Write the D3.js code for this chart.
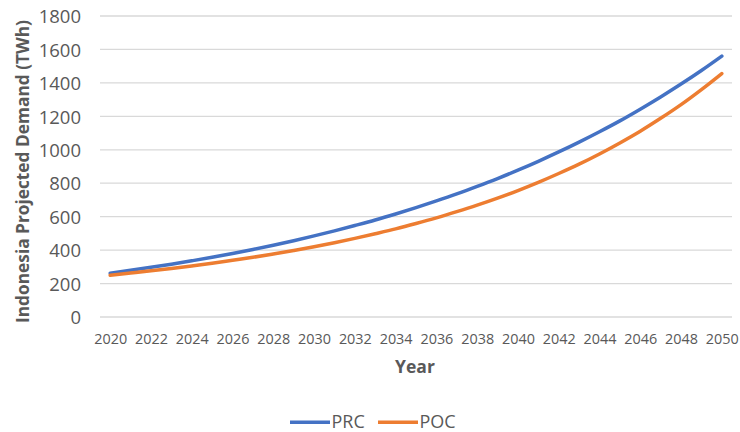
<!DOCTYPE html>
<html>
<head>
<meta charset="utf-8">
<script src="https://cdn.jsdelivr.net/npm/d3@7"></script>
<style>
  html, body { margin: 0; padding: 0; background: #fff; }
  svg { display: block; font-family: "Open Sans", "Noto Sans", sans-serif; }
</style>
</head>
<body>
<svg id="chart" width="740" height="432"></svg>
<script>
// Projected electricity demand for Indonesia, TWh per year
const years = d3.range(2020, 2051);
const prc = [262, 279, 297, 316, 336, 357, 380, 404, 429, 456,
             485, 515, 547, 580, 616, 654, 694, 736, 781, 828,
             878, 931, 987, 1046, 1108, 1173, 1243, 1316, 1393, 1474, 1560];
const poc = [250, 263, 276, 290, 305, 321, 339, 357, 377, 398,
             420, 444, 470, 498, 527, 559, 593, 630, 669, 711,
             756, 805, 858, 914, 975, 1041, 1111, 1188, 1270, 1360, 1456];
const yTicks = [0, 200, 400, 600, 800, 1000, 1200, 1400, 1600, 1800];
const xTickYears = years.filter(y => y % 2 === 0);
const seriesNames = ["PRC", "POC"];
const seriesColors = ["#4472C4", "#ED7D31"];

const svg = d3.select("#chart");
const plot = { left: 100, right: 732, top: 16, bottom: 317 };
const textColor = "#595959";

const x = d3.scalePoint().domain(years).range([plot.left, plot.right]).padding(0.5);
const y = d3.scaleLinear().domain([0, 1800]).range([plot.bottom, plot.top]);

// Horizontal gridlines
svg.append("g")
  .selectAll("line")
  .data(yTicks)
  .join("line")
  .attr("x1", plot.left).attr("x2", plot.right)
  .attr("y1", d => y(d)).attr("y2", d => y(d))
  .attr("stroke", "#d9d9d9").attr("stroke-width", 1.3);

// Y axis tick labels
const yAxis = d3.axisLeft(y).tickValues(yTicks).tickFormat(d3.format("d")).tickSize(0).tickPadding(0);
const gy = svg.append("g").attr("transform", "translate(81,0)").call(yAxis);
gy.select(".domain").remove();
gy.selectAll("text")
  .attr("font-family", "\"Open Sans\", sans-serif")
  .attr("font-size", 18.5).attr("fill", textColor)
  .attr("dy", "0.36em").attr("x", 0);

// X axis tick labels (every second year)
const xAxis = d3.axisBottom(x).tickValues(xTickYears).tickSize(0).tickPadding(0);
const gx = svg.append("g").attr("transform", "translate(0,344.3)").call(xAxis);
gx.select(".domain").remove();
gx.selectAll("text")
  .attr("font-family", "\"Open Sans\", sans-serif")
  .attr("font-size", 14.4).attr("fill", textColor)
  .attr("dy", 0).attr("y", 0);

// Axis titles
svg.append("text")
  .attr("transform", "translate(28.5,171.5) rotate(-90)")
  .attr("text-anchor", "middle")
  .attr("font-size", 17.3).attr("font-weight", "bold").attr("fill", textColor)
  .text("Indonesia Projected Demand (TWh)");

svg.append("text")
  .attr("x", 415).attr("y", 373.3)
  .attr("text-anchor", "middle")
  .attr("font-size", 17.5).attr("font-weight", "bold").attr("fill", textColor)
  .text("Year");

// Series lines
const line = d3.line()
  .x((d, i) => x(years[i]))
  .y(d => y(d))
  .curve(d3.curveMonotoneX);

[prc, poc].forEach((vals, k) => {
  svg.append("path")
    .datum(vals)
    .attr("d", line)
    .attr("fill", "none")
    .attr("stroke", seriesColors[k])
    .attr("stroke-width", 3.5)
    .attr("stroke-linecap", "round")
    .attr("stroke-linejoin", "round");
});

// Legend
const legend = svg.append("g").attr("transform", "translate(290,422.3)");
const legendOffsets = [0, 88];
seriesNames.forEach((name, k) => {
  const g = legend.append("g").attr("transform", `translate(${legendOffsets[k]},0)`);
  g.append("line")
    .attr("x1", 0).attr("x2", 40).attr("y1", 0).attr("y2", 0)
    .attr("stroke", seriesColors[k]).attr("stroke-width", 3.5);
  g.append("text")
    .attr("x", 41.5).attr("y", 6)
    .attr("font-size", 18).attr("fill", textColor)
    .text(name);
});
</script>
</body>
</html>
